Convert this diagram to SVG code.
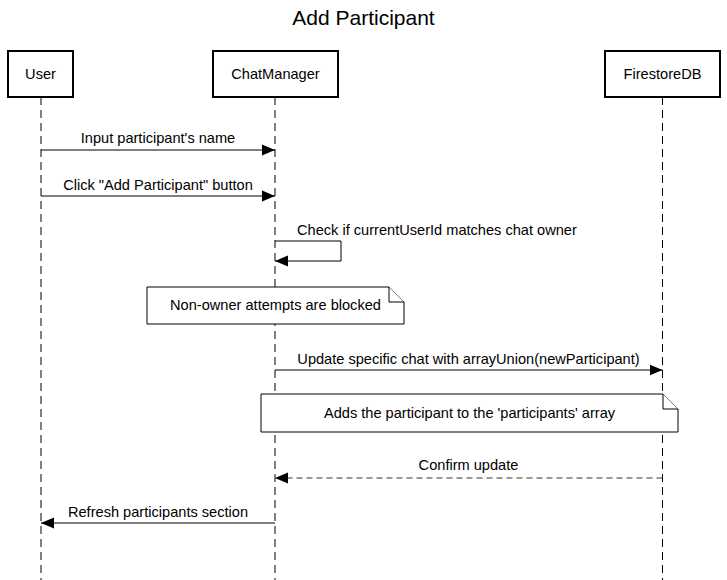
<svg xmlns="http://www.w3.org/2000/svg" width="727" height="580" viewBox="0 0 727 580">
<style>
text{font-family:"Liberation Sans",Arial,sans-serif;fill:#000}
.lbl{font-size:14.6px;text-anchor:middle}
.title{font-size:21px;text-anchor:middle}
.box{fill:#fff;stroke:#000;stroke-width:2}
.life{stroke:#000;stroke-width:1;stroke-dasharray:8,5;fill:none}
.msg{stroke:#000;stroke-width:1;fill:none}
.ret{stroke:#333;stroke-width:1;fill:none;stroke-dasharray:6,4}
.note{fill:#fff;stroke:#000;stroke-width:1}
</style>
<defs>
<marker id="ah" markerWidth="13" markerHeight="12" refX="13" refY="6" orient="auto" markerUnits="userSpaceOnUse">
<path d="M0,0.5 L13,6 L0,11.5 Z" fill="#000"/>
</marker>
</defs>
<rect width="727" height="580" fill="#fff"/>
<text class="title" x="363.5" y="25">Add Participant</text>
<g id="lifelines">
<line class="life" x1="41" y1="97" x2="41" y2="580"/>
<line class="life" x1="275" y1="97" x2="275" y2="580"/>
<line class="life" x1="662.5" y1="97" x2="662.5" y2="580"/>
</g>
<g id="User"><rect class="box" x="8" y="51" width="65" height="46"/><text class="lbl" x="40.5" y="79">User</text></g>
<g id="ChatManager"><rect class="box" x="213" y="51" width="125" height="46"/><text class="lbl" x="275.5" y="79">ChatManager</text></g>
<g id="FirestoreDB"><rect class="box" x="605" y="51" width="115" height="46"/><text class="lbl" x="662.5" y="79">FirestoreDB</text></g>
<g id="note1">
<path class="note" d="M147,287 H389 L404,302 V324 H147 Z"/>
<path class="note" d="M389,287 V302 H404" fill="none"/>
<text class="lbl" x="275.5" y="310">Non-owner attempts are blocked</text>
</g>
<g id="note2">
<path class="note" d="M261,394 H663 L678,409 V432 H261 Z"/>
<path class="note" d="M663,394 V409 H678" fill="none"/>
<text class="lbl" x="469.5" y="418">Adds the participant to the 'participants' array</text>
</g>
<g id="connectors">
<line class="msg" x1="41" y1="150" x2="275" y2="150" marker-end="url(#ah)"/>
<text class="lbl" x="158" y="143">Input participant's name</text>
<line class="msg" x1="41" y1="196" x2="275" y2="196" marker-end="url(#ah)"/>
<text class="lbl" x="158" y="190">Click "Add Participant" button</text>
<path class="msg" d="M275,241 H341 V261 H275" marker-end="url(#ah)"/>
<text x="297" y="235" style="font-size:14.6px">Check if currentUserId matches chat owner</text>
<line class="msg" x1="275" y1="370" x2="662.5" y2="370" marker-end="url(#ah)"/>
<text class="lbl" x="468.5" y="364">Update specific chat with arrayUnion(newParticipant)</text>
<line class="ret" x1="662.5" y1="478" x2="275" y2="478" marker-end="url(#ah)"/>
<text class="lbl" x="468.5" y="470">Confirm update</text>
<line class="msg" x1="275" y1="523" x2="41" y2="523" marker-end="url(#ah)"/>
<text class="lbl" x="158" y="517">Refresh participants section</text>
</g>
</svg>
